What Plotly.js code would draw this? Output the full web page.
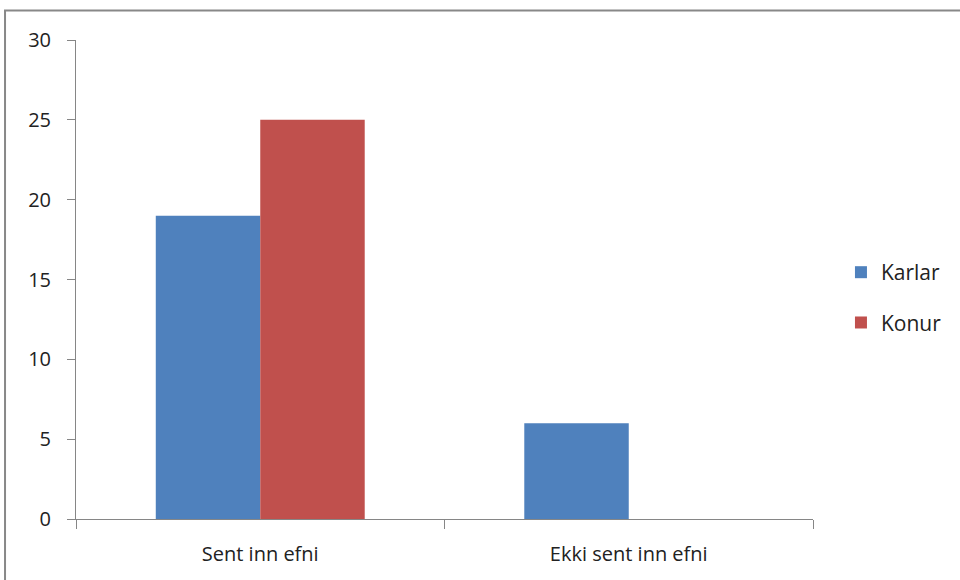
<!DOCTYPE html>
<html><head><meta charset="utf-8">
<script src="https://cdn.plot.ly/plotly-3.0.1.min.js"></script>
<style>body{margin:0;background:#fff}#c{width:960px;height:580px}</style>
</head><body><div id="c"></div>
<script>
var categories = ["Sent inn efni", "Ekki sent inn efni"];
var karlar = [19, 6];
var konur = [25, 0];
var seriesNames = ["Karlar", "Konur"];
var yTicks = [0, 5, 10, 15, 20, 25, 30];

var font = "Open Sans, Liberation Sans, sans-serif";
var data = [
  {type:"bar", name:seriesNames[0], legendgroup:"a", x:categories, y:karlar, marker:{color:"#4F81BD"}},
  {type:"bar", name:seriesNames[1], legendgroup:"b", x:categories, y:konur, marker:{color:"#C0504D"}}
];
var layout = {
  width:960, height:580,
  margin:{l:76, r:147, t:40, b:61, autoexpand:false},
  paper_bgcolor:"#fff", plot_bgcolor:"#fff",
  barmode:"group", bargap:0.433, bargroupgap:0,
  font:{family:font, color:"#222", size:20},
  xaxis:{showline:true, linecolor:"#868686", linewidth:1, ticks:"outside", tickson:"boundaries",
         ticklen:9, tickcolor:"#868686", tickfont:{size:20}, ticklabelstandoff:17, showgrid:false, zeroline:false, fixedrange:true},
  yaxis:{range:[0,30], tickvals:yTicks, showline:true, linecolor:"#868686", linewidth:1, ticks:"outside",
         ticklen:8, tickcolor:"#868686", tickfont:{size:20}, ticklabelstandoff:12, showgrid:false, zeroline:false},
  legend:{xref:"container", yref:"container", x:0.876, y:0.487, xanchor:"left", yanchor:"middle",
          font:{size:21}, itemwidth:30, tracegroupgap:20, traceorder:"grouped", bgcolor:"rgba(0,0,0,0)"},
  showlegend:true,
  shapes:[{type:"rect", xref:"paper", yref:"paper", x0:-0.0963, x1:1.4, y0:-0.2, y1:1.0616,
           line:{color:"#888", width:2}, fillcolor:"rgba(0,0,0,0)", layer:"below"}]
};
Plotly.newPlot("c", data, layout, {displayModeBar:false, staticPlot:true});
</script></body></html>
